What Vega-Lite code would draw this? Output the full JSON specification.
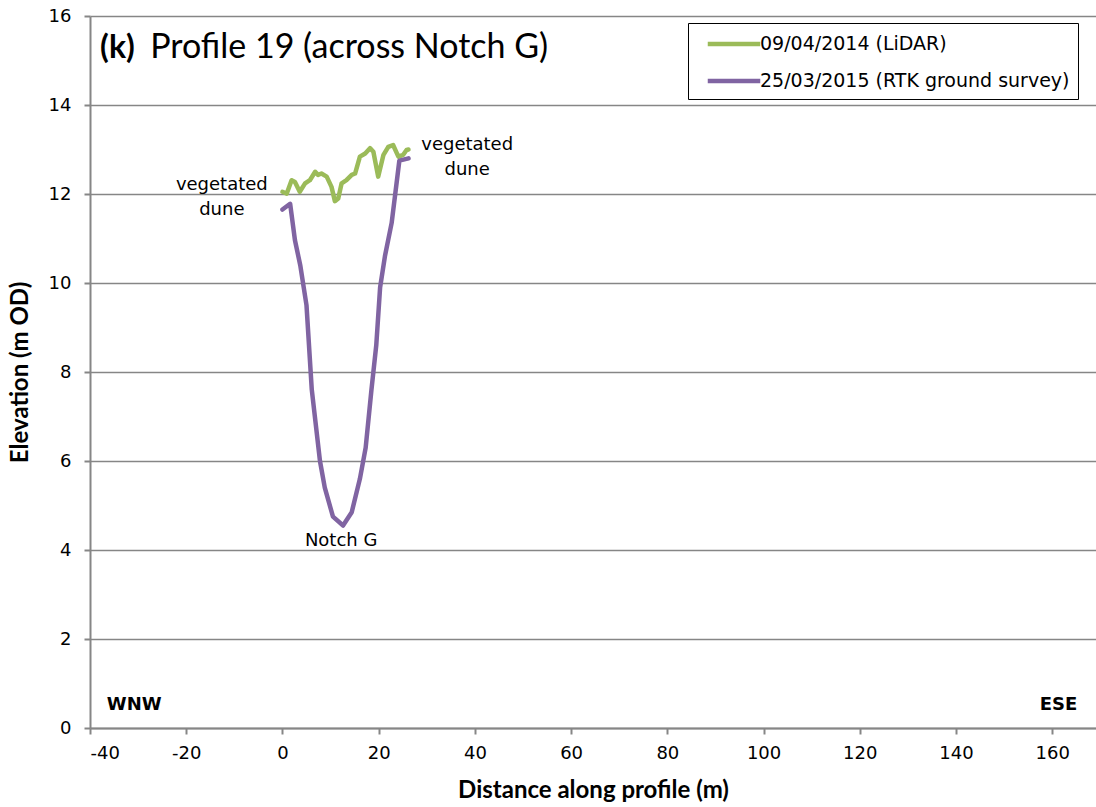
{
  "$schema": "https://vega.github.io/schema/vega-lite/v6.json",
  "autosize": "none",
  "width": 1006,
  "height": 712,
  "padding": {"left": 90, "top": 16, "right": 0, "bottom": 79},
  "background": "white",
  "config": {
    "view": {"stroke": null},
    "axis": {"labelFont": "DejaVu Sans", "labelFontSize": 18, "labelColor": "#000", "titleFont": "Lato", "titleFontWeight": "bold", "titleFontSize": 24, "titleColor": "#000", "domainColor": "#868686", "domainWidth": 2, "tickColor": "#868686", "tickWidth": 2, "tickSize": 6, "labelExpr": "'' + datum.value"}
  },
  "datasets": {
    "profiles": [
      {"series": "09/04/2014 (LiDAR)", "d": 0.0, "e": 12.05},
      {"series": "09/04/2014 (LiDAR)", "d": 0.9, "e": 12.01},
      {"series": "09/04/2014 (LiDAR)", "d": 1.9, "e": 12.31},
      {"series": "09/04/2014 (LiDAR)", "d": 2.6, "e": 12.27},
      {"series": "09/04/2014 (LiDAR)", "d": 3.6, "e": 12.05},
      {"series": "09/04/2014 (LiDAR)", "d": 4.7, "e": 12.24},
      {"series": "09/04/2014 (LiDAR)", "d": 5.7, "e": 12.31},
      {"series": "09/04/2014 (LiDAR)", "d": 6.8, "e": 12.5},
      {"series": "09/04/2014 (LiDAR)", "d": 7.4, "e": 12.43},
      {"series": "09/04/2014 (LiDAR)", "d": 8.1, "e": 12.46},
      {"series": "09/04/2014 (LiDAR)", "d": 9.2, "e": 12.39},
      {"series": "09/04/2014 (LiDAR)", "d": 10.2, "e": 12.16},
      {"series": "09/04/2014 (LiDAR)", "d": 10.9, "e": 11.84},
      {"series": "09/04/2014 (LiDAR)", "d": 11.6, "e": 11.9},
      {"series": "09/04/2014 (LiDAR)", "d": 12.3, "e": 12.24},
      {"series": "09/04/2014 (LiDAR)", "d": 13.3, "e": 12.31},
      {"series": "09/04/2014 (LiDAR)", "d": 14.4, "e": 12.43},
      {"series": "09/04/2014 (LiDAR)", "d": 15.1, "e": 12.46},
      {"series": "09/04/2014 (LiDAR)", "d": 16.1, "e": 12.84},
      {"series": "09/04/2014 (LiDAR)", "d": 17.2, "e": 12.91},
      {"series": "09/04/2014 (LiDAR)", "d": 18.2, "e": 13.03},
      {"series": "09/04/2014 (LiDAR)", "d": 18.9, "e": 12.95},
      {"series": "09/04/2014 (LiDAR)", "d": 19.9, "e": 12.39},
      {"series": "09/04/2014 (LiDAR)", "d": 21.0, "e": 12.88},
      {"series": "09/04/2014 (LiDAR)", "d": 22.0, "e": 13.06},
      {"series": "09/04/2014 (LiDAR)", "d": 23.0, "e": 13.1},
      {"series": "09/04/2014 (LiDAR)", "d": 24.1, "e": 12.84},
      {"series": "09/04/2014 (LiDAR)", "d": 25.1, "e": 12.88},
      {"series": "09/04/2014 (LiDAR)", "d": 25.8, "e": 12.99},
      {"series": "09/04/2014 (LiDAR)", "d": 26.2, "e": 13.0},
      {"series": "25/03/2015 (RTK ground survey)", "d": 0.0, "e": 11.65},
      {"series": "25/03/2015 (RTK ground survey)", "d": 1.6, "e": 11.78},
      {"series": "25/03/2015 (RTK ground survey)", "d": 2.6, "e": 10.96},
      {"series": "25/03/2015 (RTK ground survey)", "d": 3.7, "e": 10.4},
      {"series": "25/03/2015 (RTK ground survey)", "d": 5.0, "e": 9.5},
      {"series": "25/03/2015 (RTK ground survey)", "d": 6.1, "e": 7.6},
      {"series": "25/03/2015 (RTK ground survey)", "d": 7.8, "e": 6.0},
      {"series": "25/03/2015 (RTK ground survey)", "d": 8.8, "e": 5.4},
      {"series": "25/03/2015 (RTK ground survey)", "d": 10.5, "e": 4.75},
      {"series": "25/03/2015 (RTK ground survey)", "d": 12.6, "e": 4.55},
      {"series": "25/03/2015 (RTK ground survey)", "d": 14.4, "e": 4.85},
      {"series": "25/03/2015 (RTK ground survey)", "d": 16.1, "e": 5.6},
      {"series": "25/03/2015 (RTK ground survey)", "d": 17.3, "e": 6.3},
      {"series": "25/03/2015 (RTK ground survey)", "d": 18.5, "e": 7.6},
      {"series": "25/03/2015 (RTK ground survey)", "d": 19.5, "e": 8.6},
      {"series": "25/03/2015 (RTK ground survey)", "d": 20.3, "e": 9.9},
      {"series": "25/03/2015 (RTK ground survey)", "d": 21.3, "e": 10.6},
      {"series": "25/03/2015 (RTK ground survey)", "d": 22.7, "e": 11.35},
      {"series": "25/03/2015 (RTK ground survey)", "d": 24.3, "e": 12.75},
      {"series": "25/03/2015 (RTK ground survey)", "d": 26.2, "e": 12.8}
    ],
    "notes": [
      {"label": "vegetated", "d": -12.6, "e": 12.2},
      {"label": "dune", "d": -12.6, "e": 11.64},
      {"label": "vegetated", "d": 38.4, "e": 13.1},
      {"label": "dune", "d": 38.4, "e": 12.55},
      {"label": "Notch G", "d": 12.2, "e": 4.2}
    ]
  },
  "encoding": {
    "x": {"field": "d", "type": "quantitative", "scale": {"domain": [-40, 169.1], "nice": false, "zero": false},
      "axis": {"values": [-40, -20, 0, 20, 40, 60, 80, 100, 120, 140, 160], "grid": false, "title": "Distance along profile (m)", "labelPadding": 10, "titlePadding": 16}},
    "y": {"field": "e", "type": "quantitative", "scale": {"domain": [0, 16], "nice": false},
      "axis": {"values": [0, 2, 4, 6, 8, 10, 12, 14, 16], "grid": true, "gridColor": "#868686", "gridWidth": 1.5, "title": "Elevation (m OD)", "labelPadding": 13, "titlePadding": 16}}
  },
  "layer": [
    {
      "mark": {"type": "rule", "color": "#000", "strokeWidth": 1.5},
      "encoding": {"y": {"datum": 16}}
    },
    {
      "data": {"name": "profiles"},
      "mark": {"type": "line", "strokeWidth": 4.5, "strokeJoin": "round", "strokeCap": "round"},
      "encoding": {
        "color": {"field": "series", "type": "nominal",
          "scale": {"domain": ["09/04/2014 (LiDAR)", "25/03/2015 (RTK ground survey)"], "range": ["#9BBB59", "#8064A2"]},
          "legend": {"title": null, "orient": "none", "legendX": 598, "legendY": 7, "symbolType": "M-2.5,0H2.5", "symbolSize": 441, "symbolStrokeWidth": 4.5, "symbolOffset": 25, "labelOffset": 13, "labelFont": "DejaVu Sans", "labelFontSize": 19, "labelColor": "#000", "rowPadding": 14, "padding": 8, "strokeColor": "#000", "fillColor": "white", "labelLimit": 400}}
      }
    },
    {
      "data": {"name": "notes"},
      "mark": {"type": "text", "font": "DejaVu Sans", "fontSize": 18, "align": "center", "color": "#000"},
      "encoding": {"text": {"field": "label"}}
    },
    {
      "data": {"values": [{"label": "WNW", "d": -36.5, "e": 0.52}]},
      "mark": {"type": "text", "font": "DejaVu Sans", "fontSize": 18, "fontWeight": "bold", "align": "left", "color": "#000"},
      "encoding": {"text": {"field": "label"}}
    },
    {
      "data": {"values": [{"label": "ESE", "d": 165.2, "e": 0.52}]},
      "mark": {"type": "text", "font": "DejaVu Sans", "fontSize": 18, "fontWeight": "bold", "align": "right", "color": "#000"},
      "encoding": {"text": {"field": "label"}}
    },
    {
      "data": {"values": [{"label": "(k)", "d": -37.9, "e": 15.06}]},
      "mark": {"type": "text", "font": "Lato", "fontSize": 32, "fontWeight": "bold", "align": "left", "baseline": "alphabetic", "color": "#000"},
      "encoding": {"text": {"field": "label"}}
    },
    {
      "data": {"values": [{"label": "Profile 19 (across Notch G)", "d": -27.5, "e": 15.06}]},
      "mark": {"type": "text", "font": "Lato", "fontSize": 34, "align": "left", "baseline": "alphabetic", "color": "#000"},
      "encoding": {"text": {"field": "label"}}
    }
  ]
}
